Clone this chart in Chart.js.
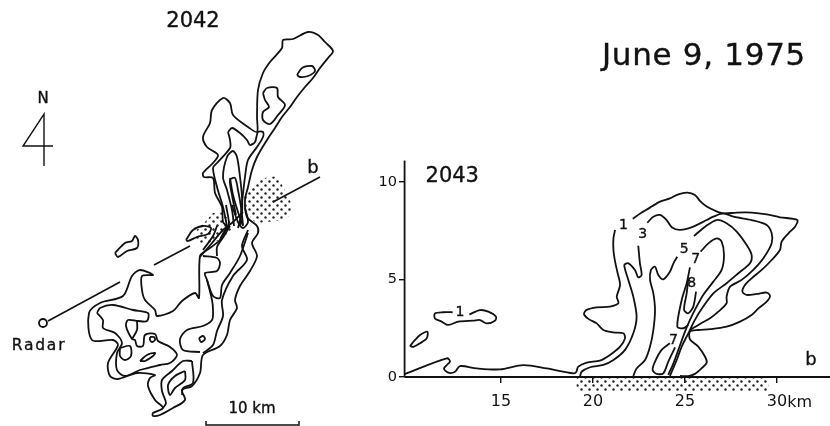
<!DOCTYPE html>
<html><head><meta charset="utf-8">
<style>html,body{margin:0;padding:0;background:#fff}canvas{display:block}</style>
<script src="https://cdn.jsdelivr.net/npm/chart.js@4"></script></head>
<body><canvas id="c" width="830" height="426"></canvas>
<script>
// ---- cross-section 2043: distance (km) along line Radar-b, height (km)
const xTicks=[15,20,25,30];
const yTicks=[0,5,10];
const secAxisX=[[9.76,0],[32.9,0]];
const secAxisY=[[9.76,0],[9.76,11.1]];
const secBand=[[19.1,0],[29.53,0],[29.53,-0.75],[19.1,-0.75],[19.1,0]];
const sec1Top=[[22.16,8.12],[22.65,8.43],[23.19,8.74],[23.64,8.99],[24.18,9.16],[24.64,9.37],[25.13,9.45],[25.54,9.33],[25.85,8.99],[26.18,8.74],[26.63,8.53],[27.08,8.39],[27.81,8.43],[28.62,8.43],[29.44,8.34],[30.16,8.19],[31.1,8.05],[30.98,7.71],[30.62,7.37],[30.25,6.94],[30.16,6.51],[29.71,6],[29.17,5.49],[28.62,5.06],[28.26,4.72],[28.12,4.38],[28.35,4.21],[28.9,4.26],[29.44,4.33],[29.62,4.16],[29.44,3.87],[28.99,3.52],[28.62,3.18],[27.99,2.84],[27.26,2.58],[26.36,2.45],[25.72,2.41],[25.27,2.33],[25.27,1.93],[25.72,1.56],[26.09,1.04],[26.18,.74],[25.91,.45],[25.54,.16],[25.18,.05],[24.73,.05]];
const sec1Left=[[21.2,7.54],[21.11,7.11],[21.11,6.51],[21.2,5.92],[21.34,5.32],[21.47,4.72],[21.29,4.12],[21.38,3.78],[20.92,3.61],[20.2,3.57],[19.66,3.44],[19.51,3.23],[19.75,2.98],[20.2,2.75],[20.56,2.41],[21.11,2.29],[21.65,2.24],[21.74,1.98],[21.47,1.56],[20.92,1.13],[20.38,.84],[19.66,.74],[19.2,.53],[19.08,.24],[18.93,.19],[17.48,.44],[16.21,.61],[14.94,.39],[13.68,.44],[12.77,.56],[12.5,.27],[12.14,.22],[11.9,.44],[12.23,.79],[12.05,.96],[9.76,.15]];
const secBlobA=[[10.05,1.59],[10.33,1.9],[10.6,2.15],[11,2.32],[10.96,1.98],[10.6,1.73],[10.24,1.55],[10.05,1.59]];
const secBlobB=[[12.37,3.32],[11.87,3.32],[11.41,3.26],[11.41,3],[11.77,2.84],[12.14,2.67],[12.68,2.84],[13.5,2.89],[13.86,2.92],[14.22,2.75],[14.67,2.89],[14.73,3.09],[14.31,3.35],[13.86,3.43],[13.28,3.21]];
const sec3Left=[[19.29,0],[19.38,.27],[19.84,.5],[20.56,.62],[21.11,.87],[21.74,1.39],[22.19,2.24],[22.37,3.09],[22.19,4.12],[21.92,4.98],[21.7,5.74],[21.92,5.83],[22.28,5.49],[22.46,5.11],[22.64,5.23],[22.55,5.83],[22.46,6.73]];
const sec3Top=[[22.95,7.91],[23.28,8.22],[23.64,8.31],[24,8.05],[24.28,7.68],[24.73,7.54],[25.45,7.71],[26.18,8.05],[26.54,8.22],[27.08,8.39],[27.63,8.22],[28.62,8.05],[29.44,7.8],[29.71,7.37],[29.71,6.86],[29.26,6.09],[28.71,5.49],[28.08,4.98],[27.45,4.63],[27.26,4.12],[27.26,3.78],[26.81,3.35],[26.36,3.01],[25.81,2.72],[25.27,2.41]];
const sec5Right=[[25.49,7.23],[26.09,7.71],[26.72,8.05],[27.26,7.88],[27.81,7.45],[28.35,6.77],[28.62,6.26],[28.53,5.83],[27.9,5.32],[27.26,4.81],[26.54,4.29],[25.99,3.61],[25.54,2.93],[25.18,2.24],[24.82,1.56],[24.55,.87],[24.28,.28],[24.18,.05]];
const sec5Left=[[24.58,6.17],[24.37,5.83],[24.18,5.4],[23.82,5.01],[23.55,5.23],[23.37,5.66],[23.15,5.49],[23.1,4.98],[23.28,4.29],[23.37,3.44],[23.28,2.41],[23.1,1.56],[22.83,.87],[22.37,.44],[22.19,.05]];
const sec7Right=[[25.85,6.43],[26.27,6.85],[26.72,7.11],[26.99,6.94],[27.12,6.26],[26.99,5.49],[26.54,4.89],[25.99,4.21],[25.63,3.61],[25.27,2.93],[25,2.33],[24.64,1.39],[24.37,.7],[24.09,.11]];
const sec7Left=[[25.27,5.62],[25.09,4.8],[24.82,3.95],[24.58,2.58],[24.91,2.5],[25.18,2.67]];
const sec8=[[25.18,5.06],[25.09,4.29],[24.95,3.44],[25.18,3.27],[25.45,3.61],[25.6,4.38]];
const sec7Low=[[24.18,1.73],[23.73,1.39],[23.37,.79],[23.24,.36],[23.46,.16],[23.82,.19],[24.09,.79],[24.46,1.52]];
const secContours=[sec1Top,sec1Left,secBlobA,secBlobB,sec3Left,sec3Top,sec5Right,sec5Left,sec7Right,sec7Left,sec8,sec7Low];

// ---- plan view 2042: digitised map-sheet units (95 units = 10 km), no axes on the sheet
const mapOuter=[[227,226],[223,222],[222,207],[215,193],[213,178],[204,177],[203,173],[213,163],[218,155],[207,147],[203,137],[210,123],[212,110],[223,98],[230,103],[233,115],[248,127],[257,132],[257,117],[258,90],[263,73],[270,62],[282,48],[283,40],[293,39],[308,32],[318,35],[325,42],[333,51],[328,58],[320,68],[313,78],[305,87],[297,97],[290,107],[282,117],[275,128],[267,140],[257,157],[252,170],[248,187],[245,200],[247,217],[257,226],[258,233],[252,243],[257,256],[250,271],[240,286],[235,300],[237,308],[230,320],[227,335],[220,346],[203,355],[200,373],[192,386],[182,390],[185,400],[173,408],[160,415],[153,416],[153,413],[163,408],[155,400],[148,386],[150,378],[155,375],[137,373],[118,379],[110,376],[108,363],[118,345],[113,340],[92,340],[89,313],[100,303],[123,296],[132,276],[140,270],[153,275],[142,276],[142,290],[145,300],[155,310],[157,316],[173,311],[182,301],[195,293],[199,298],[200,256],[207,250],[220,240],[227,226]];
const mapMidE=[[248,230],[242,246],[247,260],[233,276],[222,300],[223,316],[217,331],[213,345],[203,353]];
const mapInnerE=[[200,352],[183,350],[180,339],[187,330],[203,326],[212,320],[213,310],[212,300],[207,280],[205,273],[217,271],[220,263],[217,258],[203,256]];
const mapInnerF=[[207,280],[213,296],[220,298],[222,285],[230,273],[240,256],[248,233]];
const mapInnerG=[[217,256],[217,247],[224,236],[230,226]];
const mapTailA=[[192,361],[183,361],[172,371],[162,380],[162,391],[166,403],[163,408]];
const mapTailB=[[192,361],[193,383],[183,388],[182,395]];
const mapTailC=[[185,371],[175,376],[168,385],[170,395],[175,388],[185,380],[185,371]];
const mapSouth=[[97,313],[103,320],[103,328],[115,333],[122,343],[117,353],[117,370],[125,376],[140,370],[160,365],[170,363],[177,355],[170,347],[158,341],[155,334],[145,335],[143,346],[137,346],[135,340],[132,339],[126,326],[128,320],[138,321],[147,321],[148,313],[133,310],[113,305],[100,308],[97,313]];
const mapSouthB=[[137,321],[137,330],[132,339]];
const mapDotA=[[150,337],[154,337],[155,340],[152,342],[150,340],[150,337]];
const mapDotB=[[199,338],[203,336],[205,339],[201,342],[199,338]];
const mapBlobH=[[140,361],[147,355],[155,353],[153,356],[145,361],[140,361]];
const mapBlobI=[[120,348],[130,346],[131,356],[125,360],[120,356],[120,348]];
const mapIslandJ=[[115,253],[125,243],[132,241],[135,236],[138,240],[137,248],[127,251],[118,257],[115,253]];
const mapIslandK=[[186,240],[193,230],[203,226],[211,228],[208,234],[197,237],[188,241],[186,240]];
const mapNorthL=[[263,93],[267,88],[277,88],[278,97],[285,105],[278,115],[270,124],[263,120],[263,112],[269,107],[265,100],[263,93]];
const mapNorthM=[[297,75],[302,68],[312,66],[315,71],[308,76],[300,77],[297,75]];
const mapNorthN=[[228,132],[232,128],[240,133],[247,140],[250,145],[255,142],[258,132],[263,132],[263,137],[257,147],[248,160],[245,177],[242,203],[240,225]];
const mapNorthN2=[[228,132],[230,140],[230,148],[217,163],[213,168],[217,187],[223,207],[227,226]];
const mapNorthO=[[238,228],[242,212],[242,197],[240,177],[237,157],[233,151],[227,157],[223,177],[227,190],[232,210],[234,226]];
const mapNorthP=[[236,215],[232,195],[230,180],[235,178],[238,190],[241,207],[243,225]];
const mapCoreQ=[[232,205],[238,222],[243,228],[248,222],[245,208]];
const mapCoreR=[[226,205],[229,226],[224,232],[220,240]];
const mapCoreS=[[230,178],[233,195],[238,212],[243,226]];
const mapCoreT=[[243,212],[233,222],[223,230],[212,243],[200,257]];
const mapCoreU=[[217,226],[213,236],[203,250]];
const mapContours=[mapOuter,mapMidE,mapInnerE,mapInnerF,mapInnerG,mapTailA,mapTailB,mapTailC,mapSouth,mapSouthB,mapDotA,mapDotB,mapBlobH,mapBlobI,mapIslandJ,mapIslandK,mapNorthL,mapNorthM,mapNorthN,mapNorthN2,mapNorthO,mapNorthP,mapCoreQ,mapCoreR,mapCoreS,mapCoreT,mapCoreU];
const mapStippleA=[[243,193],[260,180],[277,177],[283,187],[292,207],[287,218],[267,222],[255,222],[247,210],[243,193]];
const mapStippleB=[[213,213],[223,213],[233,230],[220,240],[200,243],[195,233],[205,222],[213,213]];
const mapRadarLineA=[[48,321],[120,282]];
const mapRadarLineB=[[154,265],[190,246]];
const mapRadarLineC=[[273,202],[320,177]];
const mapRadarSite=[[43,323]];
const mapNorthStem=[[44,166],[44,114],[23,146],[53,146]];
const mapScaleBar=[[206,421],[206,425],[299,425],[299,421]];

const labelsSec=[["2043",12.35,10.26,21,0],["1",21.65,7.8,14,0],["3",22.7,7.3,14,0],["5",24.96,6.56,14,0],["7",25.58,6.03,14,0],["8",25.36,4.8,14,0],["7",24.37,1.9,14,0],["1",12.77,3.32,14,0],["b",31.85,.85,18,0]];
const labelsMap=[["2042",193,22,21,0],["June 9, 1975",704,57,31,.7],["N",43,99,15,0],["b",313,168,18,0],["Radar",39,346,15.5,1.8],["10 km",252,409,15,0]];

function stipple(){
  const p=document.createElement('canvas');p.width=p.height=8;
  const g=p.getContext('2d');g.fillStyle='#222';
  [[1,1],[5,5]].forEach(d=>{g.beginPath();g.arc(d[0]+.5,d[1]+.5,1.2,0,7);g.fill();});
  return document.getElementById('c').getContext('2d').createPattern(p,'repeat');
}
const pat=stipple();
const pts=a=>a.map(p=>({x:p[0],y:p[1]}));
const line=(a,map,w,t)=>({data:pts(a),showLine:true,pointRadius:0,borderColor:'#111',borderWidth:w||1.8,tension:t===undefined?.3:t,fill:false,xAxisID:map?'mx':'x',yAxisID:map?'my':'y',order:1});
const shade=(a,map)=>({data:pts(a),showLine:true,pointRadius:0,borderWidth:0,borderColor:'rgba(0,0,0,0)',backgroundColor:pat,fill:'shape',tension:map?.3:0,xAxisID:map?'mx':'x',yAxisID:map?'my':'y',order:5});
const datasets=[
 shade(secBand,false),shade(mapStippleA,true),shade(mapStippleB,true),
 line(secAxisX,false,1.8,0),line(secAxisY,false,1.8,0),
 ...secContours.map(c=>line(c,false)),
 ...mapContours.map(c=>line(c,true)),
 line(mapRadarLineA,true,1.6,0),line(mapRadarLineB,true,1.6,0),line(mapRadarLineC,true,1.6,0),
 line(mapNorthStem,true,1.4,0),line(mapScaleBar,true,1.5,0),
 {data:pts(mapRadarSite),showLine:false,pointRadius:4,pointBackgroundColor:'#fff',pointBorderColor:'#111',pointBorderWidth:1.8,xAxisID:'mx',yAxisID:'my',order:0}
];
const textPlugin={id:'texts',afterDatasetsDraw(ch){
  const g=ch.ctx,s=ch.scales;g.save();g.fillStyle='#111';g.strokeStyle='#111';g.lineWidth=.35;g.textAlign='center';g.textBaseline='middle';
  const put=(l,xs,ys)=>{g.font=l[3]+'px "DejaVu Sans"';g.letterSpacing=l[4]+'px';const X=xs.getPixelForValue(l[1]),Y=ys.getPixelForValue(l[2]);g.fillText(l[0],X,Y);g.strokeText(l[0],X,Y);};
  labelsSec.forEach(l=>put(l,s.x,s.y));
  labelsMap.forEach(l=>put(l,s.mx,s.my));
  g.letterSpacing='0px';g.textAlign='left';g.font='16px "DejaVu Sans"';
  g.fillText('km',s.x.getPixelForValue(30.55),s.y.getPixelForValue(-1.3));
  g.restore();
}};
const noPad=a=>{a.paddingTop=a.paddingBottom=a.paddingLeft=a.paddingRight=0;};
new Chart(document.getElementById('c'),{type:'scatter',data:{datasets},plugins:[textPlugin],options:{
  responsive:false,animation:false,events:[],layout:{padding:0,autoPadding:false},
  plugins:{legend:{display:false},tooltip:{enabled:false},title:{display:false}},
  scales:{
    x:{type:'linear',position:{y:0},min:-12.228,max:32.88,border:{display:false},afterFit:noPad,
       grid:{drawOnChartArea:false,drawTicks:true,tickLength:6,color:'#111',lineWidth:1.4},
       afterBuildTicks:a=>{a.ticks=xTicks.map(v=>({value:v}));},
       ticks:{color:'#111',font:{family:'DejaVu Sans',size:16},padding:9,maxRotation:0,autoSkip:false}},
    y:{type:'linear',position:{x:9.76},min:-2.513,max:19.333,border:{display:false},afterFit:noPad,
       grid:{drawOnChartArea:false,drawTicks:true,tickLength:6,color:'#111',lineWidth:1.4},
       afterBuildTicks:a=>{a.ticks=yTicks.map(v=>({value:v}));},
       ticks:{display:false}},
    yLabels:{type:'linear',position:{x:9.35},min:-2.513,max:19.333,border:{display:false},afterFit:noPad,
       grid:{display:false,drawTicks:false},
       afterBuildTicks:a=>{a.ticks=yTicks.map(v=>({value:v}));},
       ticks:{color:'#111',font:{family:'DejaVu Sans',size:14.5},autoSkip:false}},
    mx:{type:'linear',display:false,min:0,max:830},
    my:{type:'linear',display:false,min:0,max:426,reverse:true}
  }}});
</script></body></html>
